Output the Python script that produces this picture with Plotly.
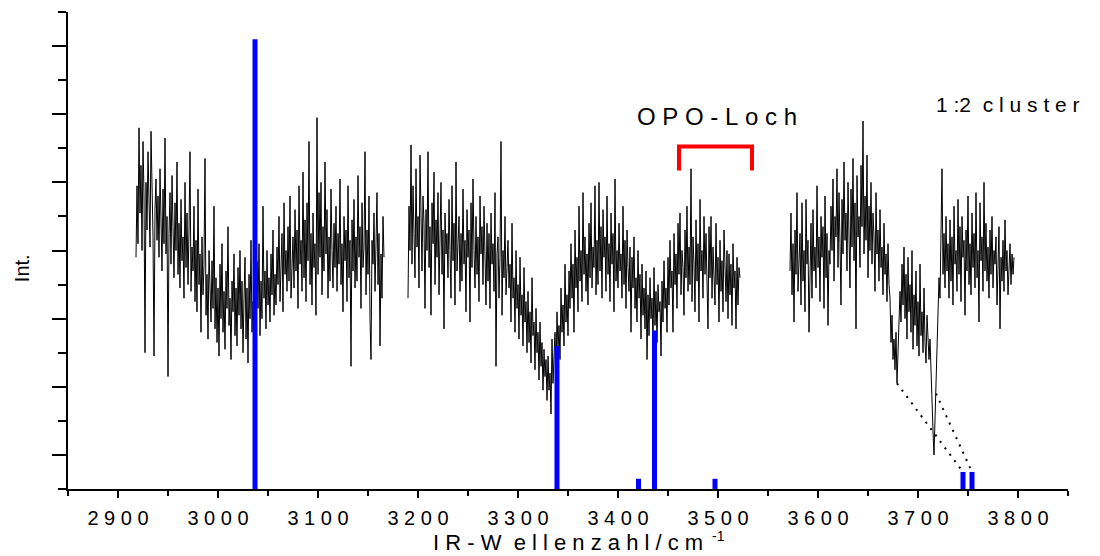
import numpy as np
import plotly.graph_objects as go

# ---------------- data ----------------
# spectrum segments: start wavenumber (cm-1), sampling step, intensities (axis units)
seg1_start, seg1_step = 2918, 1
seg1_int = [
    6.8, 8.9, 7.2, 10.6, 8.1, 9.5, 7.0, 10.2, 8.6, 4.0, 9.0, 7.6, 9.9, 8.3, 7.1, 10.5, 8.8, 7.4, 3.9, 8.2,
    9.1, 7.3, 8.6, 6.8, 9.4, 7.9, 6.4, 8.8, 7.2, 10.3, 6.9, 8.0, 3.3, 7.5, 8.7, 6.6, 9.2, 7.7, 6.2, 8.4,
    7.0, 9.6, 6.3, 7.8, 5.9, 8.5, 6.7, 7.4, 5.6, 9.0, 6.5, 8.1, 6.0, 7.6, 9.9, 5.8, 7.1, 6.4, 8.3, 5.5,
    7.3, 5.2, 8.8, 6.0, 6.9, 4.6, 7.4, 5.7, 6.6, 9.7, 5.1, 6.3, 4.4, 7.0, 5.6, 4.9, 6.7, 5.3, 8.3, 4.7,
    6.2, 4.3, 5.9, 3.9, 6.6, 5.0, 7.2, 4.6, 5.8, 4.1, 6.4, 5.3, 7.7, 4.8, 5.6, 3.8, 6.1, 5.2, 6.9, 4.5,
    5.9, 4.2, 6.5, 5.1, 7.0, 4.7, 6.1, 4.0, 5.6, 6.8, 4.4, 5.9, 3.7, 6.3, 5.0, 7.3, 4.6, 5.5, 4.1, 6.0,
    4.8, 6.7, 5.3, 7.2, 4.5, 6.1, 5.0, 8.3, 5.6, 6.4, 4.7, 7.0, 5.4, 6.2, 4.9, 6.9, 5.7, 7.6, 5.1, 6.3,
    5.4, 7.1, 6.0, 8.0, 5.5, 6.8, 7.5, 5.2, 8.4, 6.3, 7.0, 5.8, 7.7, 6.1, 8.6, 5.6, 6.9, 7.4, 5.9, 8.2,
    6.4, 7.6, 5.3, 8.9, 6.6, 7.3, 5.8, 9.3, 6.2, 7.9, 5.5, 8.4, 6.7, 10.2, 6.0, 7.5, 5.4, 8.1, 6.5, 7.2,
    5.1, 10.9, 6.3, 8.7, 6.8, 9.0, 5.7, 7.7, 6.4, 9.6, 6.9, 8.2, 5.6, 7.4, 6.1, 8.8, 7.0, 5.9, 7.8, 6.5,
    8.3, 5.8, 7.5, 6.6, 9.1, 6.0, 7.2, 5.2, 8.0, 6.7, 7.6, 5.5, 8.9, 6.2, 7.3, 3.6, 7.9, 6.4, 8.5, 5.9,
    7.4, 6.1, 9.2, 6.8, 7.7, 5.3, 8.4, 6.5, 7.1, 9.9, 5.7, 7.6, 6.3, 8.6, 5.0, 3.8, 7.3, 6.6, 8.1, 5.8,
    7.2, 8.7, 6.0, 7.5, 4.2, 6.9, 5.6, 8.0, 6.8]

seg2_start, seg2_step = 3190, 1
seg2_int = [
    5.6, 8.3, 7.0, 10.1, 6.6, 8.9, 7.5, 6.2, 9.4, 7.1, 8.0, 5.9, 9.8, 7.3, 6.4, 8.6, 7.8, 5.3, 8.2, 7.0,
    9.9, 6.5, 7.7, 5.1, 8.4, 7.2, 9.3, 6.0, 7.9, 6.8, 8.7, 5.7, 7.4, 9.0, 6.3, 7.6, 4.7, 8.1, 6.9, 7.5,
    6.2, 8.5, 7.0, 5.6, 8.9, 6.7, 7.8, 5.4, 9.6, 6.4, 7.2, 8.0, 5.8, 7.5, 6.1, 8.8, 6.6, 7.3, 5.2, 8.2,
    6.8, 7.6, 4.9, 8.4, 6.5, 9.1, 7.0, 5.9, 8.0, 6.3, 7.4, 5.5, 8.6, 6.9, 7.7, 6.0, 8.3, 6.4, 5.4, 7.8,
    6.1, 7.5, 5.3, 8.1, 6.6, 7.2, 5.8, 8.7, 3.6, 6.9, 7.4, 5.6, 6.8, 10.2, 5.1, 7.0, 6.2, 8.0, 5.7, 6.5,
    7.3, 5.9, 6.6, 4.9, 7.8, 5.6, 6.2, 4.6, 7.0, 5.3, 6.0, 4.4, 6.8, 5.1, 5.7, 4.2, 6.5, 4.9, 5.5, 4.0,
    5.8, 4.3, 5.2, 3.7, 6.2, 4.5, 4.9, 3.5, 5.3, 4.0, 4.6, 3.2, 4.9, 3.6, 4.3, 2.9, 4.1, 3.3, 3.8, 2.6,
    3.9, 2.9, 3.4, 2.2, 4.4, 3.1, 3.7, 4.6, 3.4, 5.2, 4.1, 4.8, 3.8, 5.9, 4.6, 5.4, 4.2, 6.6, 4.9, 5.7,
    4.5, 6.4, 5.3, 7.2, 5.6, 6.6, 4.6, 7.6, 5.9, 6.8, 5.2, 8.3, 6.1, 7.0, 5.5, 8.7, 6.3, 7.4, 5.8, 6.9,
    5.4, 7.8, 6.2, 8.4, 5.9, 7.1, 6.5, 8.9, 5.7, 7.3, 6.0, 9.0, 6.4, 7.7, 5.6, 8.2, 6.8, 7.4, 5.8, 8.6,
    6.3, 7.2, 5.5, 8.1, 6.6, 7.5, 5.2, 9.1, 6.1, 7.0, 5.9, 7.8, 6.4, 6.9, 5.6, 8.3, 6.0, 7.3, 5.3, 7.6,
    6.5, 5.8, 7.1, 4.6, 6.8, 5.9, 7.4, 5.3, 6.2, 4.9, 7.0, 5.6, 6.3, 4.4, 6.6, 5.1, 5.9, 4.7, 6.4, 3.8,
    5.7, 4.5, 6.2, 5.0, 5.6, 4.2, 6.5, 4.8, 5.8, 4.3, 6.0, 5.2, 5.5, 3.9, 6.1, 4.9, 6.7, 5.3, 5.9, 4.6,
    6.8, 5.4, 7.3, 5.9, 6.4, 4.6, 7.5, 6.0, 6.9, 5.3, 7.8, 6.3, 8.1, 5.7, 7.0, 6.5, 5.1, 7.6, 6.2, 8.3,
    5.8, 7.1, 6.0, 9.4, 5.5, 7.4, 6.6, 5.2, 7.9, 6.1, 7.2, 4.9, 8.5, 6.4, 7.0, 5.6, 8.0, 6.3, 7.5, 5.9,
    4.7, 7.7, 6.2, 8.0, 5.6, 7.1, 6.4, 5.4, 7.8, 6.0, 6.8, 4.9, 7.3, 5.8, 6.7, 5.2, 7.6, 6.1, 5.5, 7.0,
    5.0, 6.9, 5.7, 6.6, 4.8, 7.2, 5.9, 6.4, 4.7, 6.8, 5.4, 6.5, 6.2]

seg3_start, seg3_step = 3572, 1
seg3_int = [
    6.4, 8.1, 5.7, 7.2, 4.9, 7.6, 6.3, 8.7, 5.8, 6.9, 7.5, 5.4, 8.4, 6.1, 7.0, 5.2, 8.5, 6.6, 7.3, 4.6,
    6.9, 7.8, 5.6, 8.2, 6.4, 7.1, 5.9, 8.9, 6.5, 7.4, 5.5, 8.0, 6.8, 7.7, 5.3, 8.6, 6.2, 7.5, 4.8, 7.0,
    6.6, 8.3, 7.0, 9.1, 6.1, 8.0, 7.4, 9.4, 6.5, 8.7, 7.2, 5.4, 8.5, 6.9, 9.6, 7.3, 8.1, 6.4, 9.0, 7.6,
    5.9, 8.8, 7.1, 9.7, 6.7, 8.4, 4.7, 9.2, 7.4, 8.0, 6.5, 9.5, 7.7, 10.8, 6.9, 8.6, 7.3, 9.8, 6.2, 8.3,
    7.0, 9.0, 6.6, 8.1, 7.4, 5.8, 8.7, 6.9, 7.6, 6.1, 8.2, 6.5, 7.1, 5.7, 7.8, 6.3, 6.9, 5.5, 7.2, 6.0,
    5.6, 4.3, 5.1, 3.8, 4.4, 3.5, 4.6, 3.1, 3.9, 4.7, 5.8, 4.9, 6.6, 5.4, 7.1, 5.0, 6.3, 4.4, 6.8, 5.2,
    6.0, 4.6, 7.0, 4.1, 5.7, 4.8, 6.4, 4.2, 5.5, 3.9, 6.6, 4.5, 5.2, 4.0, 5.9, 4.3, 3.7, 5.1, 4.6, 3.8,
    4.4, 3.2, 2.5, 1.7, 1.0, 2.1, 2.8, 3.9, 4.8, 6.2, 5.6, 7.0, 9.4, 6.3, 7.5, 5.9, 8.0, 6.4, 7.2, 5.6,
    7.9, 6.1, 7.4, 5.4, 8.3, 6.6, 7.0, 5.8, 8.5, 6.3, 7.7, 5.5, 8.0, 6.8, 7.3, 5.1, 7.6, 6.4, 8.6, 6.0,
    7.2, 5.7, 8.1, 6.5, 7.5, 5.9, 8.7, 6.2, 7.0, 4.9, 8.4, 6.7, 7.4, 5.8, 9.0, 6.4, 7.8, 6.1, 7.1, 5.6,
    7.6, 6.3, 8.0, 5.9, 7.0, 6.6, 7.4, 5.4, 6.9, 7.7, 4.7, 6.8, 6.1, 7.3, 5.8, 7.9, 6.4, 7.0, 5.7, 6.6,
    7.2, 6.0, 6.9, 6.3, 6.8]

# calculated stick spectrum
stick_pos = [3037, 3339, 3420.5, 3436.5, 3497, 3745, 3754]
stick_height = [13.2, 4.2, 0.3, 4.65, 0.3, 0.5, 0.5]

# dotted assignment lines: from spectrum dips to sticks
assign_from_x = [3679, 3718]
assign_from_y = [3.1, 2.8]
assign_to_stick = [5, 6]

# OPO hole bracket
bracket_x = [3461, 3534]
bracket_top = 10.05
bracket_bottom = 9.35

NB = "\u00a0"
x_tick_vals = [2900, 3000, 3100, 3200, 3300, 3400, 3500, 3600, 3700, 3800]
x_tick_text = ["2 9 0 0", "3 0 0 0", "3 1 0 0", "3 2 0 0", "3 3 0 0",
               "3 4 0 0", "3 5 0 0", "3 6 0 0", "3 7 0 0", "3 8 0 0"]

FONT = "Liberation Sans, Arial, sans-serif"

fig = go.Figure()

for start, step, vals in [(seg1_start, seg1_step, seg1_int),
                          (seg2_start, seg2_step, seg2_int),
                          (seg3_start, seg3_step, seg3_int)]:
    xs = start + step * np.arange(len(vals))
    fig.add_trace(go.Scatter(x=xs, y=vals, mode="lines",
                             line=dict(color="black", width=1),
                             showlegend=False, hoverinfo="skip"))

# dotted assignment lines
dx, dy = [], []
for fx, fy, si in zip(assign_from_x, assign_from_y, assign_to_stick):
    dx += [fx, stick_pos[si], None]
    dy += [fy, stick_height[si], None]
fig.add_trace(go.Scatter(x=dx, y=dy, mode="lines",
                         line=dict(color="black", width=2, dash="2px,6px"),
                         showlegend=False, hoverinfo="skip"))

# sticks
sx, sy = [], []
for p, h in zip(stick_pos, stick_height):
    sx += [p, p, None]
    sy += [0, h, None]
fig.add_trace(go.Scatter(x=sx, y=sy, mode="lines",
                         line=dict(color="#0000ff", width=5),
                         showlegend=False, hoverinfo="skip"))

# bracket
fig.add_trace(go.Scatter(x=[bracket_x[0], bracket_x[0], bracket_x[1], bracket_x[1]],
                         y=[bracket_bottom, bracket_top, bracket_top, bracket_bottom],
                         mode="lines", line=dict(color="#ff0000", width=4),
                         showlegend=False, hoverinfo="skip"))


def spaced(s):
    return s.replace(" ", NB)


annotations = [
    dict(x=3499, y=10.93, xref="x", yref="y", text=spaced("O P O - L o c h"), showarrow=False,
         font=dict(family=FONT, size=24, color="black"), xanchor="center", yanchor="middle"),
    dict(x=3790, y=11.28, xref="x", yref="y", text=spaced("1 :2  c l u s t e r"), showarrow=False,
         font=dict(family=FONT, size=21, color="black"), xanchor="center", yanchor="middle"),
    dict(x=3350, y=-0.1132, xref="x", yref="paper",
         text=spaced("I R - W  e l l e n z a h l / c m"), showarrow=False,
         font=dict(family=FONT, size=22, color="black"), xanchor="center", yanchor="middle",
         borderpad=0),
    dict(x=3500, y=-0.0985, xref="x", yref="paper", text="-1", showarrow=False,
         font=dict(family=FONT, size=14, color="black"), xanchor="center", yanchor="middle",
         borderpad=0),
    dict(x=-0.046, y=0.463, xref="paper", yref="paper", text="Int.", showarrow=False,
         textangle=-90, font=dict(family=FONT, size=20, color="black"),
         xanchor="center", yanchor="middle"),
]

fig.update_layout(
    width=1100, height=556,
    margin=dict(l=68, r=32, t=12, b=67),
    paper_bgcolor="white", plot_bgcolor="white",
    showlegend=False,
    annotations=annotations,
    xaxis=dict(range=[2850, 3850], showline=True, linecolor="black", linewidth=2,
               ticks="outside", ticklen=7, tickwidth=2, tickcolor="black",
               tickvals=x_tick_vals, ticktext=[spaced(t) for t in x_tick_text],
               tickfont=dict(family=FONT, size=20, color="black"),
               ticklabelstandoff=3,
               minor=dict(ticks="outside", ticklen=5, tickwidth=2, tickcolor="black",
                          tick0=2850, dtick=50, showgrid=False),
               showgrid=False, zeroline=False, fixedrange=True),
    yaxis=dict(range=[0, 14], showline=True, linecolor="black", linewidth=2,
               ticks="outside", ticklen=14, tickwidth=2, tickcolor="black",
               tick0=1, dtick=2, showticklabels=False,
               minor=dict(ticks="outside", ticklen=8, tickwidth=2, tickcolor="black",
                          tick0=0, dtick=1, showgrid=False),
               showgrid=False, zeroline=False, fixedrange=True),
)

fig.write_html("out.html", config={"displayModeBar": False})
